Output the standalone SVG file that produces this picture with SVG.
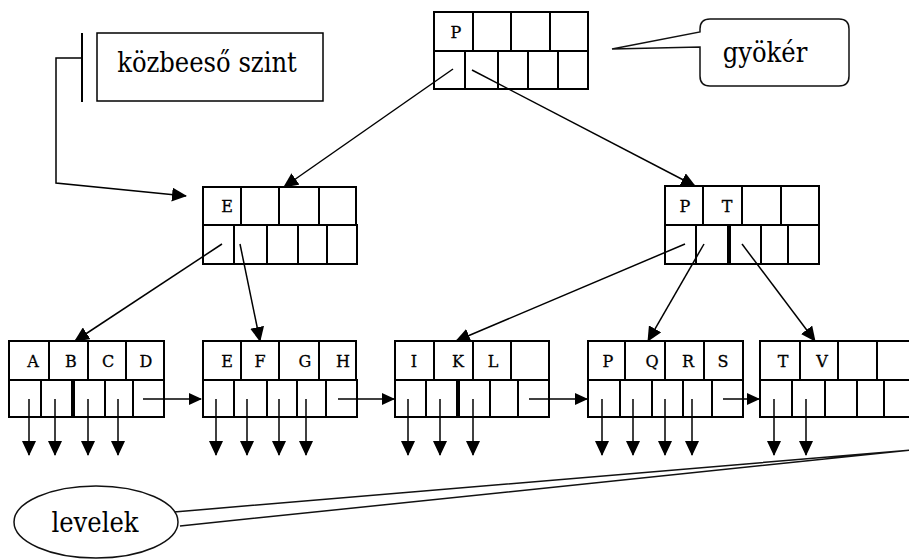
<svg xmlns="http://www.w3.org/2000/svg" width="909" height="560" viewBox="0 0 909 560">
<defs>
<marker id="ah" markerUnits="userSpaceOnUse" markerWidth="15" markerHeight="14" refX="14" refY="7" orient="auto">
<path d="M0,0 L15,7 L0,14 Z" fill="#000"/>
</marker>
<marker id="ahs" markerUnits="userSpaceOnUse" markerWidth="13" markerHeight="12" refX="12" refY="6" orient="auto">
<path d="M0,0 L13,6 L0,12 Z" fill="#000"/>
</marker>
<style>
.box{fill:#fff;stroke:#000;stroke-width:2}
.dv{stroke:#000;stroke-width:2}
.thick{stroke:#000;stroke-width:4}
.k{font-family:'DejaVu Serif','Liberation Mono',serif;font-size:16px;text-anchor:middle;fill:#000;stroke:#000;stroke-width:0.3}
.lbl{font-family:'DejaVu Serif Condensed','DejaVu Serif',serif;font-size:27px;text-anchor:middle;fill:#000}
.ln{stroke:#000;stroke-width:1.5;fill:none}
.co{stroke:#111;stroke-width:1.5;fill:#fff}
</style>
</defs>
<rect width="909" height="560" fill="#fff"/>

<g id="root">
<rect class="box" x="434" y="12" width="154" height="39"/>
<rect class="box" x="434" y="51" width="154" height="38"/>
<line class="dv" x1="473" y1="12" x2="473" y2="51"/>
<line class="dv" x1="511" y1="12" x2="511" y2="51"/>
<line class="dv" x1="550" y1="12" x2="550" y2="51"/>
<line class="dv" x1="465" y1="51" x2="465" y2="89"/>
<line class="dv" x1="498" y1="51" x2="498" y2="89"/>
<line class="dv" x1="528" y1="51" x2="528" y2="89"/>
<line class="dv" x1="558" y1="51" x2="558" y2="89"/>
<text class="k" x="456" y="38">P</text>
</g>

<g id="nodeE">
<rect class="box" x="203" y="187" width="153" height="38"/>
<rect class="box" x="203" y="225" width="154" height="39"/>
<line class="dv" x1="241" y1="187" x2="241" y2="225"/>
<line class="dv" x1="279" y1="187" x2="279" y2="225"/>
<line class="dv" x1="319" y1="187" x2="319" y2="225"/>
<line class="dv" x1="234" y1="225" x2="234" y2="264"/>
<line class="dv" x1="267" y1="225" x2="267" y2="264"/>
<line class="dv" x1="298" y1="225" x2="298" y2="264"/>
<line class="dv" x1="327" y1="225" x2="327" y2="264"/>
<text class="k" x="227" y="212">E</text>
</g>

<g id="nodePT">
<rect class="box" x="665" y="186" width="154" height="39"/>
<rect class="box" x="665" y="225" width="154" height="39"/>
<line class="dv" x1="703" y1="186" x2="703" y2="225"/>
<line class="dv" x1="742" y1="186" x2="742" y2="225"/>
<line class="dv" x1="781" y1="186" x2="781" y2="225"/>
<line class="dv" x1="696" y1="225" x2="696" y2="264"/>
<line class="thick" x1="729" y1="225" x2="729" y2="264"/>
<line class="dv" x1="761" y1="225" x2="761" y2="264"/>
<line class="dv" x1="788" y1="225" x2="788" y2="264"/>
<text class="k" x="685" y="212">P</text>
<text class="k" x="727" y="212">T</text>
</g>

<g id="leafABCD">
<rect class="box" x="9" y="341" width="155" height="39"/>
<rect class="box" x="9" y="380" width="155" height="37"/>
<line class="dv" x1="49" y1="341" x2="49" y2="380"/>
<line class="dv" x1="88" y1="341" x2="88" y2="380"/>
<line class="dv" x1="126" y1="341" x2="126" y2="380"/>
<line class="dv" x1="41" y1="380" x2="41" y2="417"/>
<line class="thick" x1="73" y1="380" x2="73" y2="417"/>
<line class="dv" x1="105" y1="380" x2="105" y2="417"/>
<line class="dv" x1="133" y1="380" x2="133" y2="417"/>
<text class="k" x="33" y="367">A</text>
<text class="k" x="71" y="367">B</text>
<text class="k" x="108" y="367">C</text>
<text class="k" x="146" y="367">D</text>
</g>

<g id="leafEFGH">
<rect class="box" x="203" y="341" width="153" height="39"/>
<rect class="box" x="203" y="380" width="154" height="37"/>
<line class="dv" x1="241" y1="341" x2="241" y2="380"/>
<line class="dv" x1="279" y1="341" x2="279" y2="380"/>
<line class="dv" x1="319" y1="341" x2="319" y2="380"/>
<line class="dv" x1="234" y1="380" x2="234" y2="417"/>
<line class="dv" x1="267" y1="380" x2="267" y2="417"/>
<line class="dv" x1="297" y1="380" x2="297" y2="417"/>
<line class="dv" x1="326" y1="380" x2="326" y2="417"/>
<text class="k" x="227" y="367">E</text>
<text class="k" x="260" y="367">F</text>
<text class="k" x="305" y="367">G</text>
<text class="k" x="343" y="367">H</text>
</g>

<g id="leafIKL">
<rect class="box" x="395" y="341" width="154" height="39"/>
<rect class="box" x="395" y="380" width="154" height="37"/>
<line class="dv" x1="434" y1="341" x2="434" y2="380"/>
<line class="dv" x1="473" y1="341" x2="473" y2="380"/>
<line class="dv" x1="511" y1="341" x2="511" y2="380"/>
<line class="dv" x1="426" y1="380" x2="426" y2="417"/>
<line class="thick" x1="458" y1="380" x2="458" y2="417"/>
<line class="dv" x1="490" y1="380" x2="490" y2="417"/>
<line class="dv" x1="518" y1="380" x2="518" y2="417"/>
<text class="k" x="414" y="367">I</text>
<text class="k" x="458" y="367">K</text>
<text class="k" x="493" y="367">L</text>
</g>

<g id="leafPQRS">
<rect class="box" x="588" y="341" width="155" height="39"/>
<rect class="box" x="588" y="380" width="155" height="37"/>
<line class="dv" x1="625" y1="341" x2="625" y2="380"/>
<line class="dv" x1="665" y1="341" x2="665" y2="380"/>
<line class="dv" x1="704" y1="341" x2="704" y2="380"/>
<line class="dv" x1="620" y1="380" x2="620" y2="417"/>
<line class="dv" x1="652" y1="380" x2="652" y2="417"/>
<line class="dv" x1="683" y1="380" x2="683" y2="417"/>
<line class="dv" x1="712" y1="380" x2="712" y2="417"/>
<text class="k" x="608" y="367">P</text>
<text class="k" x="652" y="367">Q</text>
<text class="k" x="688" y="367">R</text>
<text class="k" x="723" y="367">S</text>
</g>

<g id="leafTV">
<rect class="box" x="760" y="341" width="154" height="39"/>
<rect class="box" x="760" y="380" width="154" height="37"/>
<line class="dv" x1="800" y1="341" x2="800" y2="380"/>
<line class="dv" x1="838" y1="341" x2="838" y2="380"/>
<line class="dv" x1="877" y1="341" x2="877" y2="380"/>
<line class="dv" x1="792" y1="380" x2="792" y2="417"/>
<line class="dv" x1="825" y1="380" x2="825" y2="417"/>
<line class="dv" x1="857" y1="380" x2="857" y2="417"/>
<line class="dv" x1="884" y1="380" x2="884" y2="417"/>
<text class="k" x="783" y="367">T</text>
<text class="k" x="822" y="367">V</text>
</g>

<g id="callout-gyoker">
<path class="co" d="M710,19 H839 Q849,19 849,29 V76 Q849,86 839,86 H710 Q700,86 700,76 V47 L612,49 L700,32 V29 Q700,19 710,19 Z"/>
<text class="lbl" x="765" y="62">gyökér</text>
</g>

<g id="callout-kozbeeso">
<rect x="97" y="33" width="226" height="68" fill="#fff" stroke="#000" stroke-width="1.5"/>
<line x1="82" y1="33" x2="82" y2="102" stroke="#000" stroke-width="2"/>
<text class="lbl" x="207" y="72">közbeeső szint</text>
</g>

<g id="callout-levelek">
<path class="co" d="M174,512 L912,450 L180,526"/>
<ellipse cx="96" cy="522" rx="82" ry="36" class="co"/>
<text class="lbl" x="95" y="532">levelek</text>
</g>

<g id="connectors">
<polyline class="ln" points="82,58 56,58 56,183 186,196" marker-end="url(#ah)"/>
<line class="ln" x1="453" y1="69" x2="284" y2="187" marker-end="url(#ah)"/>
<line class="ln" x1="472" y1="70" x2="695" y2="186" marker-end="url(#ah)"/>
<line class="ln" x1="222" y1="244" x2="75" y2="341" marker-end="url(#ah)"/>
<line class="ln" x1="240" y1="244" x2="260" y2="341" marker-end="url(#ah)"/>
<line class="ln" x1="685" y1="244" x2="456" y2="341" marker-end="url(#ah)"/>
<line class="ln" x1="704" y1="244" x2="648" y2="341" marker-end="url(#ah)"/>
<line class="ln" x1="742" y1="244" x2="815" y2="341" marker-end="url(#ah)"/>
<line class="ln" x1="143" y1="399" x2="201" y2="399" marker-end="url(#ahs)"/>
<line class="ln" x1="338" y1="399" x2="394" y2="399" marker-end="url(#ahs)"/>
<line class="ln" x1="529" y1="399" x2="587" y2="399" marker-end="url(#ahs)"/>
<line class="ln" x1="723" y1="399" x2="759" y2="399" marker-end="url(#ahs)"/>
<line class="ln" x1="29" y1="399" x2="29" y2="455" marker-end="url(#ah)"/>
<line class="ln" x1="55" y1="399" x2="55" y2="455" marker-end="url(#ah)"/>
<line class="ln" x1="88" y1="399" x2="88" y2="455" marker-end="url(#ah)"/>
<line class="ln" x1="118" y1="399" x2="118" y2="455" marker-end="url(#ah)"/>
<line class="ln" x1="216" y1="399" x2="216" y2="455" marker-end="url(#ah)"/>
<line class="ln" x1="247" y1="399" x2="247" y2="455" marker-end="url(#ah)"/>
<line class="ln" x1="279" y1="399" x2="279" y2="455" marker-end="url(#ah)"/>
<line class="ln" x1="306" y1="399" x2="306" y2="455" marker-end="url(#ah)"/>
<line class="ln" x1="408" y1="399" x2="408" y2="455" marker-end="url(#ah)"/>
<line class="ln" x1="440" y1="399" x2="440" y2="455" marker-end="url(#ah)"/>
<line class="ln" x1="473" y1="399" x2="473" y2="455" marker-end="url(#ah)"/>
<line class="ln" x1="602" y1="399" x2="602" y2="455" marker-end="url(#ah)"/>
<line class="ln" x1="633" y1="399" x2="633" y2="455" marker-end="url(#ah)"/>
<line class="ln" x1="665" y1="399" x2="665" y2="455" marker-end="url(#ah)"/>
<line class="ln" x1="692" y1="399" x2="692" y2="455" marker-end="url(#ah)"/>
<line class="ln" x1="774" y1="399" x2="774" y2="455" marker-end="url(#ah)"/>
<line class="ln" x1="806" y1="399" x2="806" y2="455" marker-end="url(#ah)"/>
</g>
</svg>
